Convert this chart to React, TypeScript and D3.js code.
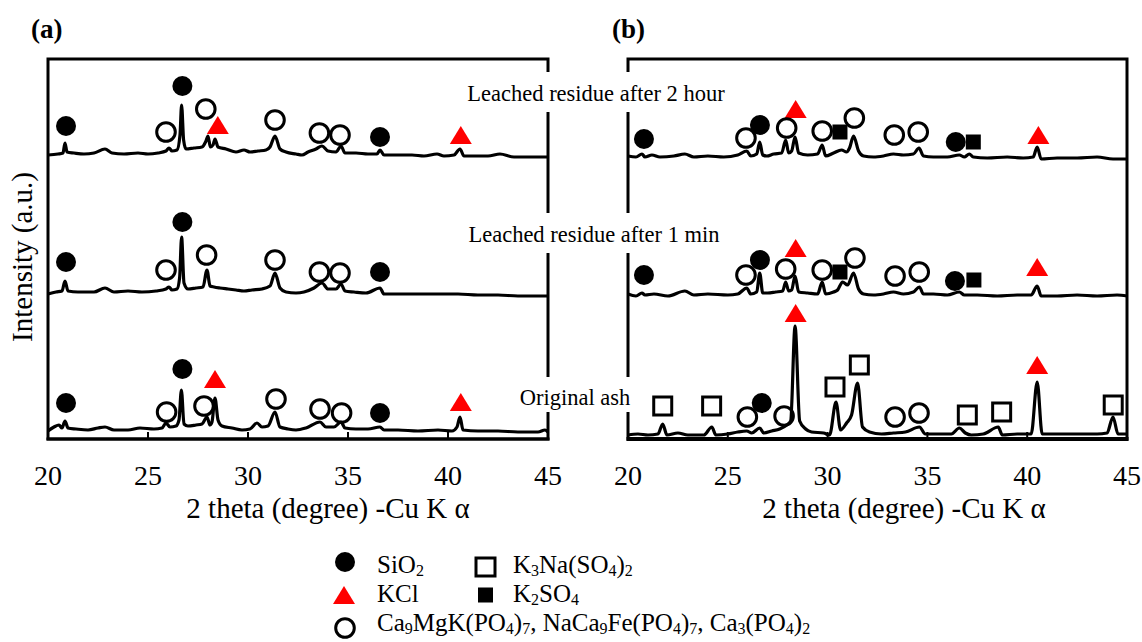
import React from 'react';
import * as d3 from 'd3';

type P = [number, number];
type M = { p: string; x: number; y: number };

const panelLabels = ['(a)', '(b)'];
const xTicks = [20, 25, 30, 35, 40, 45];
const innerTicks = [25, 30, 35, 40];
const seriesNames = ['Leached residue after 2 hour', 'Leached residue after 1 min', 'Original ash'];
const xTitle = '2 theta (degree) -Cu K \u03b1';
const yTitle = 'Intensity (a.u.)';

// baseline offsets for the stacked patterns (a.u.), top -> bottom
const offsetsA = [284, 146, 9];
const offsetsB = [282, 144, 4];

// Panel (a) patterns: [2theta, intensity above baseline]
const a2h: P[] = [
  [20.0, 0], [20.5, 1], [20.75, 2], [20.85, 12], [20.95, 3], [21.3, 2], [21.8, 1], [22.3, 2], [22.85, 6], [23.2, 2],
  [23.8, 1], [24.5, 2], [25.0, 1], [25.5, 2], [25.9, 4], [26.05, 7], [26.2, 4], [26.45, 5], [26.6, 20], [26.68, 50],
  [26.78, 15], [26.9, 6], [27.3, 7], [27.7, 8], [27.9, 14], [28.0, 19], [28.12, 8], [28.25, 10], [28.35, 16], [28.5, 8],
  [28.9, 6], [29.4, 3], [29.8, 5], [30.1, 3], [30.5, 4], [30.9, 5], [31.1, 8], [31.35, 19], [31.6, 6], [31.9, 3],
  [32.4, 1], [32.7, 0], [33.0, 3], [33.4, 6], [33.7, 9], [34.0, 4], [34.4, 3], [34.65, 9], [34.85, 2], [35.4, 2],
  [36.0, 1], [36.45, 1], [36.6, 5], [36.8, 0], [37.5, 0], [38.2, 0], [38.8, -1], [39.45, 1], [39.8, -1], [40.3, 0],
  [40.6, 6], [40.8, -1], [41.5, -1], [42.0, -1], [42.6, 1], [43.3, -2], [44.2, -2], [45.0, -2],
];
const a1m: P[] = [
  [20.0, -1], [20.4, 1], [20.7, 2], [20.85, 12], [21.0, 2], [21.5, 1], [22.3, 1], [22.85, 5], [23.3, 1], [24.0, 2],
  [24.7, 1], [25.4, 2], [25.9, 4], [26.05, 6], [26.2, 3], [26.45, 4], [26.58, 15], [26.68, 56], [26.8, 10], [27.0, 4],
  [27.4, 5], [27.75, 6], [27.95, 23], [28.1, 7], [28.3, 6], [28.6, 5], [29.0, 4], [29.4, 3], [29.8, 2], [30.2, 3],
  [30.7, 4], [31.1, 7], [31.35, 20], [31.6, 5], [31.9, 1], [32.4, 0], [32.8, 1], [33.3, 5], [33.7, 10], [34.0, 4],
  [34.4, 4], [34.65, 9], [34.85, 2], [35.3, 1], [35.9, 0], [36.6, 5], [36.8, -1], [37.5, -1], [38.5, -1], [39.5, -1],
  [40.5, -1], [41.5, -2], [42.5, -2], [43.5, -3], [44.5, -3], [45.0, -3],
];
const aOrig: P[] = [
  [20.0, -1], [20.3, 3], [20.55, 5], [20.7, 2], [20.85, 9], [21.0, 2], [21.4, 1], [22.0, 0], [22.5, 2], [22.85, 3],
  [23.3, 0], [24.0, 0], [24.6, 2], [25.3, 1], [25.7, 2], [25.9, 7], [26.1, 3], [26.4, 4], [26.55, 10], [26.67, 40],
  [26.8, 6], [27.0, 4], [27.4, 5], [27.7, 6], [27.95, 13], [28.1, 5], [28.2, 8], [28.35, 32], [28.5, 10], [28.7, 4],
  [29.2, 2], [29.7, 0], [30.1, 1], [30.45, 7], [30.7, 3], [31.0, 4], [31.35, 18], [31.6, 3], [32.0, 1], [32.4, 0],
  [32.9, 2], [33.6, 8], [33.9, 3], [34.3, 3], [34.65, 8], [34.85, 2], [35.4, 1], [36.0, 1], [36.6, 3], [36.8, 0],
  [37.5, 0], [38.5, -1], [39.5, 0], [40.2, -1], [40.45, 3], [40.6, 13], [40.75, 0], [41.5, -1], [42.5, -1], [43.5, -2],
  [44.5, -2], [44.85, 0], [45.0, -2],
];

// Panel (b) patterns
const b2h: P[] = [
  [20.0, 1], [20.4, 0], [20.7, 3], [20.85, 0], [21.2, 2], [21.6, 0], [22.3, 1], [22.85, 3], [23.3, 0], [24.0, 1],
  [24.8, 0], [25.5, 2], [25.95, 6], [26.15, 1], [26.45, 3], [26.6, 15], [26.75, 2], [26.95, 1], [27.3, 3], [27.7, 4],
  [27.9, 17], [28.05, 4], [28.2, 6], [28.37, 20], [28.55, 4], [29.0, 2], [29.5, 3], [29.73, 12], [29.9, 1], [30.3, 4],
  [30.7, 7], [30.95, 5], [31.1, 9], [31.3, 21], [31.55, 6], [31.8, 1], [32.3, 0], [32.8, 1], [33.3, 3], [33.8, 2],
  [34.3, 3], [34.58, 9], [34.8, 1], [35.3, 0], [36.0, 0], [36.6, 2], [36.85, 0], [37.1, 3], [37.3, 0], [38.0, -1],
  [39.0, 0], [39.8, -1], [40.3, 0], [40.5, 10], [40.7, -2], [41.5, -1], [42.5, -1], [43.5, 0], [44.3, -2], [45.0, -2],
];
const b1m: P[] = [
  [20.0, 1], [20.4, -1], [20.7, 2], [20.85, 0], [21.3, 1], [22.0, -1], [22.85, 4], [23.3, 0], [24.0, 1], [25.0, 0],
  [25.5, 1], [25.95, 7], [26.15, 1], [26.45, 3], [26.6, 22], [26.75, 2], [27.0, 2], [27.4, 3], [27.75, 4], [27.9, 13],
  [28.05, 4], [28.2, 5], [28.37, 19], [28.55, 3], [29.0, 2], [29.5, 1], [29.73, 13], [29.9, 1], [30.3, 3], [30.5, 5],
  [30.75, 13], [31.0, 10], [31.3, 22], [31.55, 6], [31.8, 1], [32.3, 0], [32.8, 1], [33.3, 3], [33.8, 1], [34.3, 3],
  [34.6, 8], [34.8, 1], [35.3, 1], [36.0, 0], [36.6, 3], [36.85, 0], [37.5, 0], [38.5, -1], [39.5, 0], [40.2, 0],
  [40.5, 9], [40.7, -1], [41.5, -1], [42.5, 0], [43.5, -1], [44.5, 0], [45.0, -1],
];
const bOrig: P[] = [
  [20.0, 0], [20.5, 1], [21.0, 0], [21.5, 1], [21.74, 11], [21.95, 0], [22.5, 2], [23.0, 0], [23.8, 0], [24.2, 8],
  [24.4, 0], [25.0, 1], [25.5, 3], [25.95, 4], [26.2, 2], [26.6, 7], [26.8, 2], [27.2, 4], [27.6, 6], [27.95, 10],
  [28.15, 14], [28.37, 109], [28.6, 14], [28.9, 6], [29.2, 3], [29.8, 2], [30.1, 0], [30.42, 33], [30.65, 5], [30.95, 12],
  [31.2, 20], [31.5, 52], [31.75, 8], [32.1, 3], [32.7, 1], [33.3, 2], [33.9, 3], [34.6, 8], [34.9, 1], [35.5, 1],
  [36.2, 1], [36.6, 7], [36.9, 2], [37.2, 0], [37.8, 1], [38.55, 8], [38.75, 0], [39.5, 1], [40.2, 1], [40.5, 53],
  [40.75, 1], [41.5, 1], [42.5, 1], [43.5, 1], [44.0, 2], [44.3, 18], [44.55, 1], [45.0, 1],
];

// Phase markers (absolute a.u.)
const markersA: M[] = [
  { p: 'SiO2', x: 20.9, y: 313 }, { p: 'SiO2', x: 26.72, y: 353 }, { p: 'SiO2', x: 36.6, y: 302 },
  { p: 'Ca', x: 25.9, y: 307 }, { p: 'Ca', x: 27.89, y: 330 }, { p: 'Ca', x: 31.35, y: 319 }, { p: 'Ca', x: 33.57, y: 306 }, { p: 'Ca', x: 34.6, y: 304 },
  { p: 'KCl', x: 28.49, y: 314 }, { p: 'KCl', x: 40.64, y: 304 },
  { p: 'SiO2', x: 20.9, y: 177 }, { p: 'SiO2', x: 26.72, y: 217 }, { p: 'SiO2', x: 36.6, y: 167 },
  { p: 'Ca', x: 25.9, y: 169 }, { p: 'Ca', x: 27.93, y: 184 }, { p: 'Ca', x: 31.35, y: 179 }, { p: 'Ca', x: 33.57, y: 167 }, { p: 'Ca', x: 34.6, y: 166 },
  { p: 'SiO2', x: 20.9, y: 36 }, { p: 'SiO2', x: 26.72, y: 70 }, { p: 'SiO2', x: 36.6, y: 26 },
  { p: 'KCl', x: 28.35, y: 60 }, { p: 'KCl', x: 40.64, y: 37 },
  { p: 'Ca', x: 25.93, y: 27 }, { p: 'Ca', x: 27.8, y: 33 }, { p: 'Ca', x: 31.4, y: 40 }, { p: 'Ca', x: 33.6, y: 30 }, { p: 'Ca', x: 34.68, y: 26 },
];
const markersB: M[] = [
  { p: 'SiO2', x: 20.8, y: 300 }, { p: 'SiO2', x: 26.61, y: 314 }, { p: 'SiO2', x: 36.42, y: 297 },
  { p: 'KCl', x: 28.4, y: 330 }, { p: 'KCl', x: 40.56, y: 304 },
  { p: 'Ca', x: 25.91, y: 301 }, { p: 'Ca', x: 27.95, y: 311 }, { p: 'Ca', x: 29.73, y: 308 }, { p: 'Ca', x: 31.34, y: 321 }, { p: 'Ca', x: 33.34, y: 304 }, { p: 'Ca', x: 34.54, y: 307 },
  { p: 'K2SO4', x: 30.62, y: 307 }, { p: 'K2SO4', x: 37.3, y: 297 },
  { p: 'SiO2', x: 20.8, y: 164 }, { p: 'SiO2', x: 26.61, y: 179 }, { p: 'SiO2', x: 36.38, y: 158 },
  { p: 'KCl', x: 28.4, y: 191 }, { p: 'KCl', x: 40.5, y: 172 },
  { p: 'Ca', x: 25.91, y: 164 }, { p: 'Ca', x: 27.9, y: 170 }, { p: 'Ca', x: 29.73, y: 169 }, { p: 'Ca', x: 31.37, y: 181 }, { p: 'Ca', x: 33.38, y: 163 }, { p: 'Ca', x: 34.59, y: 167 },
  { p: 'K2SO4', x: 30.62, y: 167 }, { p: 'K2SO4', x: 37.33, y: 159 },
  { p: 'SiO2', x: 26.7, y: 36 },
  { p: 'KCl', x: 28.4, y: 126 }, { p: 'KCl', x: 40.5, y: 74 },
  { p: 'Ca', x: 25.98, y: 22 }, { p: 'Ca', x: 27.82, y: 23 }, { p: 'Ca', x: 33.38, y: 22 }, { p: 'Ca', x: 34.58, y: 26 },
  { p: 'K3Na', x: 21.74, y: 33 }, { p: 'K3Na', x: 24.19, y: 33 }, { p: 'K3Na', x: 30.37, y: 52 }, { p: 'K3Na', x: 31.59, y: 74 },
  { p: 'K3Na', x: 37.0, y: 24 }, { p: 'K3Na', x: 38.72, y: 27 }, { p: 'K3Na', x: 44.31, y: 34 },
];

const legendLabels = {
  SiO2: 'SiO_{2}',
  K3Na: 'K_{3}Na(SO_{4})_{2}',
  KCl: 'KCl',
  K2SO4: 'K_{2}SO_{4}',
  Ca: 'Ca_{9}MgK(PO_{4})_{7}, NaCa_{9}Fe(PO_{4})_{7}, Ca_{3}(PO_{4})_{2}',
};

const FONT = "'Liberation Serif', 'Times New Roman', Times, serif";
const W = 1142;
const H = 642;
const TOP = 59;
const BOTTOM = 439;

function Rich({ text, x, y, size, anchor = 'start' }: { text: string; x: number; y: number; size: number; anchor?: string }) {
  const parts = text.split(/(_\{[^}]*\})/).filter((s) => s.length > 0);
  const shift = 3;
  let down = false;
  const out: any[] = [];
  parts.forEach((p, i) => {
    if (p.startsWith('_{')) {
      out.push(
        <tspan key={i} fontSize={size * 0.64} dy={down ? 0 : shift}>
          {p.slice(2, -1)}
        </tspan>
      );
      down = true;
    } else {
      out.push(
        <tspan key={i} dy={down ? -shift : 0}>
          {p}
        </tspan>
      );
      down = false;
    }
  });
  return (
    <text x={x} y={y} fontSize={size} textAnchor={anchor as any} style={{ fontFamily: FONT }} fill="#000">
      {out}
    </text>
  );
}

function Marker({ p, cx, cy }: { p: string; cx: number; cy: number }) {
  if (p === 'SiO2') return <circle cx={cx} cy={cy} r={10} fill="#000" />;
  if (p === 'Ca') return <circle cx={cx} cy={cy} r={9.3} fill="none" stroke="#000" strokeWidth={3} />;
  if (p === 'KCl')
    return <path d={`M${cx - 11},${cy + 9}L${cx + 11},${cy + 9}L${cx},${cy - 9}Z`} fill="#ff0000" />;
  if (p === 'K3Na')
    return <rect x={cx - 9} y={cy - 9} width={18} height={18} fill="none" stroke="#000" strokeWidth={3} />;
  if (p === 'K2SO4') return <rect x={cx - 7.5} y={cy - 7.5} width={15} height={15} fill="#000" />;
  return null;
}

function Panel({ left, right, traces, offsets, markers, bottomWidth }: any) {
  const x = d3.scaleLinear().domain([20, 45]).range([left, right]);
  const y = d3.scaleLinear().domain([0, BOTTOM - TOP]).range([BOTTOM, TOP]);
  return (
    <g>
      <rect x={left} y={TOP} width={right - left} height={BOTTOM - TOP} fill="none" stroke="#000" strokeWidth={3} />
      <line x1={left - 1.5} x2={right + 1.5} y1={BOTTOM} y2={BOTTOM} stroke="#000" strokeWidth={bottomWidth} />
      {innerTicks.map((t) => (
        <line key={t} x1={x(t)} x2={x(t)} y1={BOTTOM} y2={BOTTOM - 7} stroke="#000" strokeWidth={2} />
      ))}
      {xTicks.map((t) => (
        <text key={t} x={x(t)} y={485} fontSize={28} textAnchor="middle" style={{ fontFamily: FONT }}>
          {t}
        </text>
      ))}
      {traces.map((tr: P[], i: number) => {
        const line = d3
          .line<P>()
          .x((d) => x(d[0]))
          .y((d) => y(d[1] + offsets[i]))
          .curve(d3.curveMonotoneX);
        return <path key={i} d={line(tr) || ''} fill="none" stroke="#000" strokeWidth={3.2} strokeLinejoin="round" />;
      })}
      {markers.map((m: M, i: number) => (
        <Marker key={i} p={m.p} cx={x(m.x)} cy={y(m.y)} />
      ))}
    </g>
  );
}

export default function App() {
  const labelBaselines = [101, 242, 405];
  const labelCenters = [596, 594, 575];
  const labelBoxes = [
    [460, 72, 276, 40],
    [464, 213, 262, 40],
    [514, 377, 120, 35],
  ];
  return (
    <svg width={W} height={H} style={{ position: 'absolute', left: 0, top: 0, background: '#fff', fontFamily: FONT }}>
      <rect x={0} y={0} width={W} height={H} fill="#fff" />
      <Panel left={48} right={548} traces={[a2h, a1m, aOrig]} offsets={offsetsA} markers={markersA} bottomWidth={3} />
      <Panel left={628} right={1127} traces={[b2h, b1m, bOrig]} offsets={offsetsB} markers={markersB} bottomWidth={4} />
      {labelBoxes.map((b, i) => (
        <rect key={i} x={b[0]} y={b[1]} width={b[2]} height={b[3]} fill="#fff" />
      ))}
      {seriesNames.map((s, i) => (
        <text key={s} x={labelCenters[i]} y={labelBaselines[i]} fontSize={22.5} textAnchor="middle" style={{ fontFamily: FONT }}>
          {s}
        </text>
      ))}
      <text x={31} y={38} fontSize={27} fontWeight="bold" style={{ fontFamily: FONT }}>
        {panelLabels[0]}
      </text>
      <text x={612} y={38} fontSize={27} fontWeight="bold" style={{ fontFamily: FONT }}>
        {panelLabels[1]}
      </text>
      <text x={328} y={518} fontSize={29} textAnchor="middle" style={{ fontFamily: FONT }}>
        {xTitle}
      </text>
      <text x={904} y={518} fontSize={29} textAnchor="middle" style={{ fontFamily: FONT }}>
        {xTitle}
      </text>
      <text transform="translate(32,257) rotate(-90)" fontSize={29} textAnchor="middle" style={{ fontFamily: FONT }}>
        {yTitle}
      </text>
      {/* legend */}
      <Marker p="SiO2" cx={345} cy={562} />
      <Rich text={legendLabels.SiO2} x={377} y={573} size={25} />
      <rect x={476} y={558} width={19} height={18} fill="none" stroke="#000" strokeWidth={3} />
      <Rich text={legendLabels.K3Na} x={513} y={573} size={25} />
      <Marker p="KCl" cx={344} cy={595} />
      <Rich text={legendLabels.KCl} x={377} y={602} size={25} />
      <Marker p="K2SO4" cx={485.5} cy={595} />
      <Rich text={legendLabels.K2SO4} x={513} y={602} size={25} />
      <Marker p="Ca" cx={345} cy={628} />
      <Rich text={legendLabels.Ca} x={377} y={631} size={25} />
    </svg>
  );
}
